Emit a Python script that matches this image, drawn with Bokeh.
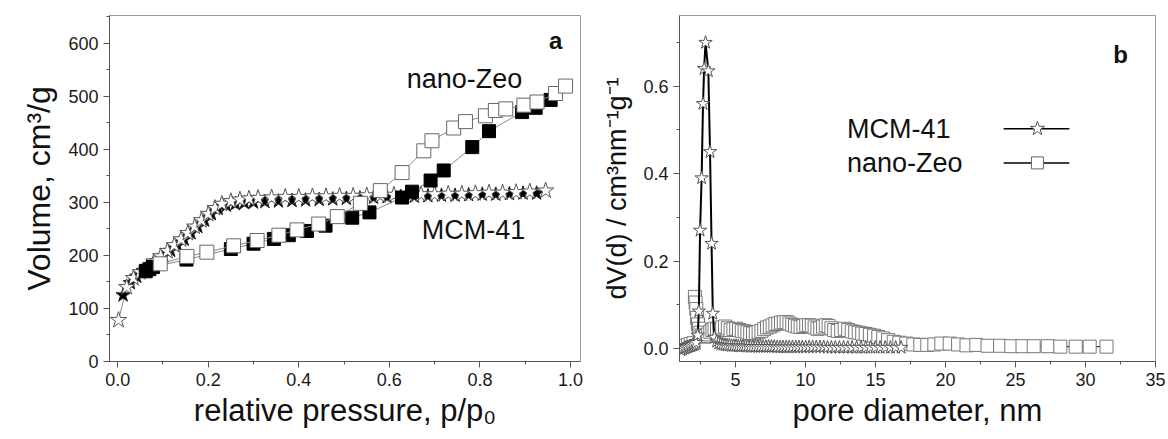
from bokeh.plotting import figure
from bokeh.layouts import row
from bokeh.models import (Range1d, SingleIntervalTicker, NumeralTickFormatter, Label)
from bokeh.embed import file_html
from bokeh.resources import INLINE

# ---------------- data: panel a (isotherms) ----------------
mcm_ads_p = [0.002, 0.020, 0.035, 0.050, 0.065, 0.080, 0.095, 0.110, 0.125, 0.140,
             0.155, 0.170, 0.185, 0.200, 0.215, 0.230, 0.250, 0.270, 0.290, 0.310,
             0.340, 0.370, 0.400, 0.430, 0.460, 0.490, 0.520, 0.550, 0.580, 0.610,
             0.640, 0.670, 0.700, 0.730, 0.760, 0.790, 0.820, 0.850, 0.880, 0.910, 0.945]
mcm_ads_v = [78, 140, 157, 168, 178, 188, 198, 208, 219, 230,
             242, 254, 266, 278, 289, 297, 302, 305, 307, 308,
             309, 310, 310, 311, 311, 312, 312, 313, 313, 314,
             314, 315, 315, 316, 316, 317, 318, 318, 319, 320, 322]

mcm_des_p = [0.012, 0.028, 0.042, 0.057, 0.072, 0.087, 0.102, 0.117, 0.132, 0.147,
             0.162, 0.177, 0.192, 0.207, 0.222, 0.240, 0.260, 0.280, 0.300, 0.325,
             0.355, 0.385, 0.415, 0.445, 0.475, 0.505, 0.535, 0.565, 0.595, 0.625,
             0.655, 0.685, 0.715, 0.745, 0.775, 0.805, 0.835, 0.865, 0.895, 0.925]
mcm_des_v = [125, 148, 160, 171, 180, 189, 199, 209, 219, 230,
             242, 254, 266, 278, 288, 294, 297, 299, 300, 301,
             302, 303, 304, 305, 306, 307, 308, 309, 310, 311,
             311, 312, 313, 313, 314, 315, 315, 316, 317, 317]

zeo_ads_p = [0.094, 0.153, 0.197, 0.256, 0.308, 0.356, 0.396, 0.444, 0.485, 0.536,
             0.580, 0.628, 0.676, 0.694, 0.742, 0.768, 0.812, 0.834, 0.857, 0.897,
             0.926, 0.967, 0.989]
zeo_ads_v = [184, 198, 206, 218, 228, 238, 248, 259, 273, 298,
             322, 356, 397, 416, 440, 452, 463, 473, 476, 483,
             489, 505, 519]

zeo_des_p = [0.062, 0.070, 0.078, 0.152, 0.250, 0.300, 0.345, 0.378, 0.418, 0.459,
             0.518, 0.556, 0.628, 0.650, 0.691, 0.720, 0.783, 0.820, 0.893, 0.923, 0.956]
zeo_des_v = [170, 174, 178, 192, 212, 222, 231, 238, 246, 256,
             271, 281, 309, 320, 341, 360, 404, 434, 470, 478, 493]

# ---------------- data: panel b (pore size distribution) ----------------
mcm_psd_d = [1.10, 1.22, 1.34, 1.46, 1.58, 1.70, 1.82, 1.94, 2.06, 2.18, 2.30,
             2.38, 2.47, 2.58, 2.68, 2.76, 2.86, 3.06, 3.18, 3.29, 3.38,
             3.50, 3.65, 3.80, 3.95, 4.10, 4.25, 4.40, 4.56, 4.72, 4.88,
             5.04, 5.20, 5.37, 5.54, 5.71, 5.88, 6.06, 6.24, 6.42, 6.60,
             6.79, 6.98, 7.17, 7.37, 7.57, 7.77, 7.98, 8.19, 8.40, 8.62,
             8.84, 9.07, 9.30, 9.53, 9.77, 10.01, 10.26, 10.51, 10.77, 11.03,
             11.30, 11.57, 11.85, 12.13, 12.42, 12.72, 13.02, 13.33, 13.65, 13.97,
             14.30, 14.64, 14.98, 15.33, 15.69, 16.06, 16.44, 16.83]
mcm_psd_v = [-0.004, -0.002, 0.000, 0.002, 0.003, 0.005, 0.006, 0.008, 0.010, 0.013, 0.030,
             0.085, 0.27, 0.39, 0.56, 0.64, 0.70, 0.635, 0.45, 0.24, 0.08,
             0.025, 0.016, 0.012, 0.010, 0.009, 0.008, 0.007, 0.007, 0.006, 0.006,
             0.006, 0.005, 0.005, 0.005, 0.005, 0.005, 0.004, 0.004, 0.004, 0.004,
             0.004, 0.004, 0.004, 0.004, 0.004, 0.004, 0.003, 0.003, 0.003, 0.003,
             0.003, 0.003, 0.003, 0.003, 0.003, 0.003, 0.003, 0.003, 0.003, 0.003,
             0.003, 0.002, 0.002, 0.002, 0.002, 0.002, 0.002, 0.002, 0.002, 0.002,
             0.002, 0.002, 0.002, 0.002, 0.002, 0.002, 0.002, 0.002]

zeo_psd_d = [1.20, 1.40, 1.60, 1.80, 2.00, 2.10, 2.15, 2.20, 2.26, 2.32,
             2.40, 2.50, 2.62, 2.75, 2.90, 3.05, 3.20, 3.35, 3.50, 3.68,
             3.86, 4.05, 4.25, 4.45, 4.65, 4.85, 5.05, 5.25, 5.45, 5.65,
             5.85, 6.05, 6.25, 6.45, 6.65, 6.85, 7.05, 7.25, 7.45, 7.65,
             7.85, 8.05, 8.25, 8.45, 8.65, 8.85, 9.05, 9.25, 9.45, 9.65,
             9.85, 10.05, 10.25, 10.45, 10.65, 10.85, 11.05, 11.25, 11.45, 11.65,
             11.85, 12.05, 12.30, 12.55, 12.80, 13.05, 13.30, 13.55, 13.80, 14.05,
             14.30, 14.60, 14.90, 15.20, 15.55, 15.90, 16.30, 16.70, 17.20, 17.70,
             18.20, 18.70, 19.20, 19.70, 20.30, 20.90, 21.50, 22.20, 23.00, 23.90,
             24.70, 25.50, 26.30, 27.30, 28.20, 29.30, 30.30, 31.50]
zeo_psd_v = [0.004, 0.006, 0.008, 0.010, 0.012, 0.118, 0.105, 0.090, 0.070, 0.055,
             0.045, 0.036, 0.030, 0.027, 0.028, 0.032, 0.038, 0.042, 0.045, 0.044,
             0.042, 0.048, 0.050, 0.046, 0.042, 0.044, 0.045, 0.042, 0.040, 0.039,
             0.037, 0.035, 0.034, 0.036, 0.038, 0.040, 0.044, 0.048, 0.050, 0.053,
             0.056, 0.057, 0.059, 0.060, 0.060, 0.057, 0.054, 0.052, 0.050, 0.049,
             0.051, 0.053, 0.053, 0.052, 0.048, 0.045, 0.046, 0.050, 0.053, 0.051,
             0.046, 0.042, 0.040, 0.042, 0.045, 0.042, 0.039, 0.037, 0.036, 0.034,
             0.033, 0.031, 0.029, 0.026, 0.023, 0.019, 0.015, 0.013, 0.011, 0.009,
             0.008, 0.008, 0.009, 0.011, 0.011, 0.009, 0.007, 0.008, 0.006, 0.006,
             0.005, 0.005, 0.005, 0.005, 0.004, 0.004, 0.004, 0.004]

legend_labels = ["MCM-41", "nano-Zeo"]

FONT = "Liberation Sans"


def style(p, xint, yint, xfmt=None, yfmt=None):
    for ax, iv, fmt in ((p.xaxis[0], xint, xfmt), (p.yaxis[0], yint, yfmt)):
        ax.ticker = SingleIntervalTicker(interval=iv, num_minor_ticks=2)
        if fmt:
            ax.formatter = NumeralTickFormatter(format=fmt)
        ax.major_tick_in = 0
        ax.major_tick_out = 6
        ax.minor_tick_in = 0
        ax.minor_tick_out = 3
        ax.axis_line_color = "#555555"
        ax.major_tick_line_color = "#555555"
        ax.minor_tick_line_color = "#555555"
        ax.major_label_text_font = FONT
        ax.major_label_text_font_size = "18px"
        ax.major_label_text_color = "#1a1a1a"
        ax.axis_label_text_font = FONT
        ax.axis_label_text_font_style = "normal"
        ax.axis_label_text_color = "#111111"
    p.grid.visible = False
    p.outline_line_color = "#9a9a9a"
    p.background_fill_color = "white"
    p.border_fill_color = "white"


# ---------------- panel a ----------------
p1 = figure(width=590, height=439, x_range=Range1d(-0.018, 1.022), y_range=Range1d(0, 652),
            output_backend="svg", toolbar_location=None,
            min_border_left=109, min_border_right=10, min_border_top=15, min_border_bottom=78)
style(p1, 0.2, 100, xfmt="0.0")
p1.xaxis.axis_label = "relative pressure, p/p\u2080"
p1.yaxis.axis_label = "Volume, cm\u00b3/g"
p1.xaxis.axis_label_text_font_size = "31px"
p1.yaxis.axis_label_text_font_size = "32px"
p1.xaxis.axis_label_standoff = 4
p1.yaxis.axis_label_standoff = 8

p1.line(mcm_des_p, mcm_des_v, line_color="#888888", line_width=1)
p1.line(mcm_ads_p, mcm_ads_v, line_color="#888888", line_width=1)
p1.scatter(mcm_des_p, mcm_des_v, marker="star", size=15, fill_color="black", line_color="#222222")
p1.scatter(mcm_ads_p, mcm_ads_v, marker="star", size=17, fill_color="white", line_color="#555555")
p1.line(zeo_des_p, zeo_des_v, line_color="#888888", line_width=1)
p1.scatter(zeo_des_p, zeo_des_v, marker="square", size=13, fill_color="black", line_color="black")
p1.line(zeo_ads_p, zeo_ads_v, line_color="#888888", line_width=1)
p1.scatter(zeo_ads_p, zeo_ads_v, marker="square", size=14, fill_color="white", line_color="#666666")

for txt, x, y, fs, st in (("a", 0.967, 605, "24px", "bold"),
                          ("nano-Zeo", 0.766, 533, "27px", "normal"),
                          ("MCM-41", 0.786, 247, "27px", "normal")):
    p1.add_layout(Label(x=x, y=y, text=txt, text_font=FONT, text_font_size=fs,
                        text_font_style=st, text_align="center", text_baseline="middle",
                        text_color="#111111"))

# ---------------- panel b ----------------
p2 = figure(width=578, height=439, x_range=Range1d(1, 35), y_range=Range1d(-0.030, 0.762),
            output_backend="svg", toolbar_location=None,
            min_border_left=89, min_border_right=13, min_border_top=13, min_border_bottom=74)
style(p2, 5, 0.2, yfmt="0.0")
p2.xaxis.axis_label = "pore diameter, nm"
p2.yaxis.axis_label = "dV(d) / cm\u00b3nm\u207b\u00b9g\u207b\u00b9"
p2.xaxis.axis_label_text_font_size = "31px"
p2.yaxis.axis_label_text_font_size = "27px"
p2.xaxis.axis_label_standoff = 4
p2.yaxis.axis_label_standoff = 8

p2.line(zeo_psd_d, zeo_psd_v, line_color="black", line_width=1)
p2.scatter(zeo_psd_d, zeo_psd_v, marker="square", size=13, fill_color="white", line_color="#777777")
p2.line(mcm_psd_d, mcm_psd_v, line_color="black", line_width=2)
p2.scatter(mcm_psd_d, mcm_psd_v, marker="star", size=14, fill_color="white", line_color="#555555")

p2.add_layout(Label(x=32.5, y=0.672, text="b", text_font=FONT, text_font_size="24px",
                    text_font_style="bold", text_align="center", text_baseline="middle",
                    text_color="#111111"))

# ---------------- hand-made legend (text left, sample right) ----------------
# frame-fraction coordinates for the legend samples
p2.extra_x_ranges = {"leg": Range1d(0, 1)}
p2.extra_y_ranges = {"leg": Range1d(0, 1)}
leg_rows = [0.673, 0.574]          # vertical positions (fraction of frame height)
leg_x0, leg_x1, leg_xm = 0.681, 0.819, 0.752
for lab, yf in zip(legend_labels, leg_rows):
    p2.add_layout(Label(x=0.352, y=yf, x_range_name="leg", y_range_name="leg", text=lab,
                        text_font=FONT, text_font_size="27px", text_align="left",
                        text_baseline="middle", text_color="#111111"))
p2.segment(x0=[leg_x0, leg_x0], y0=leg_rows, x1=[leg_x1, leg_x1], y1=leg_rows,
           x_range_name="leg", y_range_name="leg", line_color="black", line_width=1.5)
p2.scatter(x=[leg_xm], y=[leg_rows[0]], marker="star", size=15, fill_color="white",
           line_color="#555555", x_range_name="leg", y_range_name="leg")
p2.scatter(x=[leg_xm], y=[leg_rows[1]], marker="square", size=12, fill_color="white",
           line_color="#666666", x_range_name="leg", y_range_name="leg")

layout = row(p1, p2)
open("out.html", "w").write(file_html(layout, INLINE))
